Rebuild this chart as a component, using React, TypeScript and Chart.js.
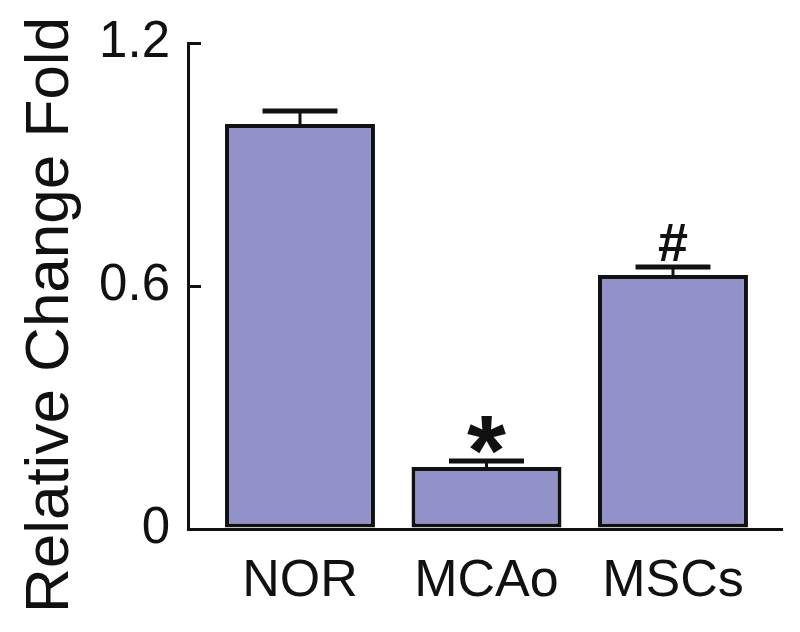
import React, { useEffect, useRef } from "react";
import { Chart, registerables } from "chart.js";

Chart.register(...registerables);

const categories = ["NOR", "MCAo", "MSCs"];
const values = [1.0, 0.153, 0.627];
const errors = [0.032, 0.015, 0.02];
const significance = ["", "*", "#"];
const yTicks = [0, 0.6, 1.2];
const yTickLabels = ["0", "0.6", "1.2"];
const yTitle = "Relative Change Fold";

const FONT = "'Liberation Sans', Arial, Helvetica, sans-serif";
const BAR_COLOR = "#9292C9";

const errorBarPlugin = {
  id: "errorBars",
  afterDatasetsDraw(chart: any) {
    const { ctx, scales } = chart;
    const meta = chart.getDatasetMeta(0);
    const ys = scales.y;
    ctx.save();
    ctx.strokeStyle = "#111";
    meta.data.forEach((bar: any, i: number) => {
      const x = bar.x;
      const yBar = ys.getPixelForValue(values[i]);
      const yTop = ys.getPixelForValue(values[i] + errors[i]);
      const half = bar.width / 4;
      ctx.lineWidth = 3;
      ctx.beginPath();
      ctx.moveTo(x, yBar);
      ctx.lineTo(x, yTop);
      ctx.stroke();
      ctx.lineWidth = 5;
      ctx.beginPath();
      ctx.moveTo(x - half, yTop);
      ctx.lineTo(x + half, yTop);
      ctx.stroke();
      const s = significance[i];
      if (s) {
        ctx.fillStyle = "#111";
        ctx.textAlign = "center";
        ctx.textBaseline = "alphabetic";
        if (s === "*") {
          ctx.font = `bold 100px ${FONT}`;
          ctx.fillText(s, x, yTop + 24);
        } else {
          ctx.font = `bold 54px ${FONT}`;
          ctx.fillText(s, x, yTop - 6);
        }
      }
    });
    ctx.restore();
  },
};

const titlePlugin = {
  id: "yTitleText",
  afterDraw(chart: any) {
    const { ctx, chartArea } = chart;
    ctx.save();
    ctx.translate(68, (chartArea.top + chartArea.bottom) / 2 + 29);
    ctx.rotate(-Math.PI / 2);
    ctx.font = `62px ${FONT}`;
    ctx.fillStyle = "#111";
    ctx.textAlign = "center";
    ctx.textBaseline = "alphabetic";
    ctx.fillText(yTitle, 0, 0);
    ctx.restore();
  },
};

export default function App() {
  const ref = useRef<HTMLCanvasElement | null>(null);
  useEffect(() => {
    if (!ref.current) return;
    const chart = new Chart(ref.current, {
      type: "bar",
      data: {
        datasets: [
          {
            data: values.map((v, i) => ({ x: i, y: v })),
            backgroundColor: BAR_COLOR,
            borderColor: "#111",
            borderWidth: 4,
            borderSkipped: false,
            barPercentage: 0.804,
            categoryPercentage: 1,
          },
        ],
      },
      options: {
        animation: false,
        responsive: true,
        maintainAspectRatio: false,
        layout: { padding: { top: 43, right: 18, left: 0, bottom: 0 } },
        plugins: {
          legend: { display: false },
          tooltip: { enabled: false },
          title: { display: false },
        },
        scales: {
          x: {
            type: "linear",
            offset: false,
            min: -0.6005,
            max: 2.5845,
            afterBuildTicks: (scale: any) => {
              scale.ticks = categories.map((_, i) => ({ value: i }));
            },
            afterFit: (scale: any) => {
              scale.height = 103;
              scale.paddingLeft = 0;
              scale.paddingRight = 0;
            },
            ticks: {
              callback: (v: any) => categories[v] ?? "",
              color: "#111",
              font: { family: FONT, size: 52 },
              padding: 21,
              maxRotation: 0,
              autoSkip: false,
            },
            grid: { display: false, drawTicks: false },
            border: { display: true, color: "#111", width: 3 },
          },
          y: {
            min: 0,
            max: 1.2,
            afterBuildTicks: (scale: any) => {
              scale.ticks = yTicks.map((v) => ({ value: v }));
            },
            afterFit: (scale: any) => {
              scale.width = 188;
              scale.paddingTop = 0;
              scale.paddingBottom = 0;
            },
            ticks: {
              callback: (v: any) => {
                const idx = yTicks.indexOf(v);
                return idx >= 0 ? yTickLabels[idx] : "";
              },
              color: "#111",
              font: { family: FONT, size: 51 },
              padding: 31,
            },
            grid: {
              display: true,
              drawOnChartArea: false,
              drawTicks: true,
              tickLength: -13,
              color: "#111",
              lineWidth: 3,
            },
            border: { display: true, color: "#111", width: 3 },
          },
        },
      },
      plugins: [errorBarPlugin, titlePlugin],
    });
    return () => chart.destroy();
  }, []);
  return (
    <div style={{ position: "fixed", left: 0, top: 0, width: 800, height: 632, background: "#fff" }}>
      <canvas ref={ref} />
    </div>
  );
}
